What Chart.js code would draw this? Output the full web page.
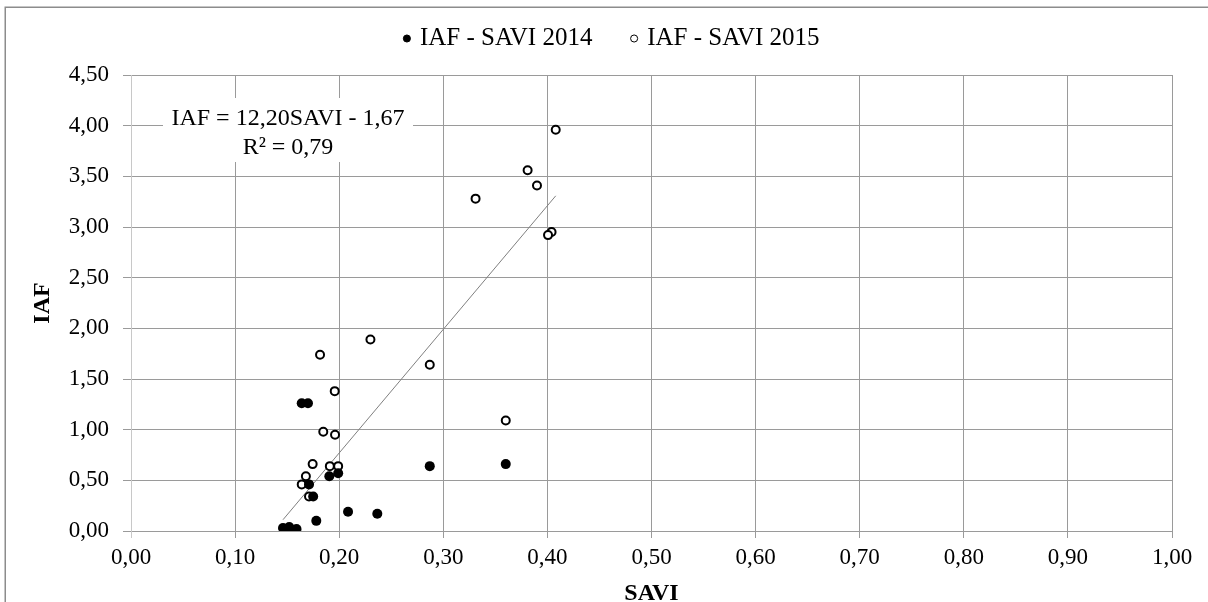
<!DOCTYPE html>
<html>
<head>
<meta charset="utf-8">
<script src="https://cdn.jsdelivr.net/npm/chart.js@4"></script>
<style>
  html, body { margin: 0; padding: 0; background: #ffffff; }
  #wrap { width: 1208px; height: 602px; }
</style>
</head>
<body>
<div id="wrap"><canvas id="chart" width="1208" height="602"></canvas></div>
<script>
// SAVI (x) and IAF (y) samples for each campaign
const savi2014 = [0.164, 0.170, 0.1905, 0.199, 0.171, 0.175, 0.178, 0.2085, 0.2366, 0.146, 0.152, 0.159, 0.287, 0.360];
const iaf2014  = [1.26,  1.26,  0.54,   0.57,  0.46,  0.34,  0.10,  0.19,   0.17,   0.03,  0.04,  0.02,  0.64,  0.66];

const savi2015 = [0.408, 0.381, 0.390, 0.331, 0.404, 0.4006, 0.230, 0.1816, 0.287, 0.1957, 0.360, 0.1847, 0.196, 0.1745, 0.191, 0.199, 0.168, 0.164, 0.171];
const iaf2015  = [3.96,  3.56,  3.41,  3.28,  2.95,  2.92,   1.89,  1.74,   1.64,  1.38,   1.09,  0.98,   0.95,  0.66,   0.64,  0.64,  0.54,  0.46,  0.34];

const seriesNames = ['IAF - SAVI 2014', 'IAF - SAVI 2015'];

// Linear fit reported on the chart
const trendSlope = 12.20;
const trendIntercept = -1.67;
const trendR2 = 0.79;

// Axis ranges
const xRange = [0, 1];
const xStep = 0.1;
const yRange = [0, 4.5];
const yStep = 0.5;

const axisTitleX = 'SAVI';
const axisTitleY = 'IAF';

const SERIF = '"Liberation Serif", "Times New Roman", serif';
const comma = (v, d) => v.toFixed(d).replace('.', ',');

const toPoints = (xs, ys) => xs.map((x, i) => ({ x: x, y: ys[i] }));
const allSavi = savi2014.concat(savi2015);
const trendX = [Math.min(...allSavi), Math.max(...allSavi)];
const trendPoints = trendX.map(x => ({ x: x, y: trendSlope * x + trendIntercept }));

const trendLabel = [
  'IAF = ' + comma(trendSlope, 2) + 'SAVI - ' + comma(Math.abs(trendIntercept), 2),
  'R² = ' + comma(trendR2, 2)
];

// Outer frame of the chart object
const framePlugin = {
  id: 'frame',
  beforeDraw(chart) {
    const ctx = chart.ctx;
    ctx.save();
    ctx.fillStyle = '#ffffff';
    ctx.fillRect(0, 0, chart.width, chart.height);
    ctx.strokeStyle = '#8c8c8c';
    ctx.lineWidth = 1.5;
    ctx.strokeRect(5.25, 7.25, chart.width + 10, chart.height + 10);
    ctx.restore();
  }
};

// Trendline equation in a white box
const equationPlugin = {
  id: 'equation',
  afterDatasetsDraw(chart) {
    const ctx = chart.ctx;
    const a = chart.chartArea;
    const bx = a.left + 32, by = a.top + 23, bw = 250, bh = 64;
    ctx.save();
    ctx.fillStyle = '#ffffff';
    ctx.fillRect(bx, by, bw, bh);
    ctx.fillStyle = '#000000';
    ctx.font = '24px ' + SERIF;
    ctx.textAlign = 'center';
    ctx.textBaseline = 'alphabetic';
    ctx.fillText(trendLabel[0], bx + bw / 2, by + 27);
    ctx.fillText(trendLabel[1], bx + bw / 2, by + 56);
    ctx.restore();
  }
};

const gridColor = '#9a9a9a';
const zeroAxisColor = '#c8c8c8';

new Chart(document.getElementById('chart'), {
  type: 'scatter',
  data: {
    datasets: [
      {
        label: seriesNames[0] + '     ',
        data: toPoints(savi2014, iaf2014),
        pointStyle: 'circle',
        pointRadius: 5,
        pointBorderWidth: 0,
        backgroundColor: '#000000',
        borderColor: '#000000'
      },
      {
        label: seriesNames[1],
        data: toPoints(savi2015, iaf2015),
        pointStyle: 'circle',
        pointRadius: 4,
        pointBorderWidth: 2,
        backgroundColor: '#ffffff',
        borderColor: '#000000'
      },
      {
        type: 'line',
        label: 'trend',
        data: trendPoints,
        borderColor: '#808080',
        borderWidth: 1,
        pointRadius: 0,
        fill: false,
        tension: 0
      }
    ]
  },
  options: {
    responsive: false,
    animation: false,
    events: [],
    layout: { padding: { left: 18, right: 0, top: 16, bottom: 0 } },
    plugins: {
      tooltip: { enabled: false },
      legend: {
        display: true,
        position: 'top',
        labels: {
          color: '#000000',
          font: { family: SERIF, size: 25 },
          usePointStyle: true,
          boxWidth: 1,
          boxHeight: 5,
          padding: 10,
          generateLabels(chart) {
            const items = Chart.defaults.plugins.legend.labels.generateLabels(chart);
            return items
              .filter(it => it.datasetIndex < 2)
              .map(it => Object.assign(it, { lineWidth: 1 }));
          }
        }
      },
      // empty band between the legend and the plot area
      subtitle: {
        display: true,
        text: '',
        weight: 500,
        position: 'top',
        font: { size: 10, lineHeight: 1 },
        padding: { top: 0, bottom: 4 }
      }
    },
    scales: {
      x: {
        type: 'linear',
        min: xRange[0],
        max: xRange[1],
        afterFit(s) { s.height = 71; s.paddingRight = 36; },
        ticks: {
          stepSize: xStep,
          padding: 6,
          color: '#000000',
          font: { family: SERIF, size: 23 },
          callback: v => comma(v, 2)
        },
        grid: {
          color: c => (c.tick && c.tick.value === 0 ? zeroAxisColor : gridColor),
          lineWidth: 1,
          tickLength: 7,
          drawTicks: true
        },
        border: { display: true, color: gridColor, width: 1 },
        title: {
          display: true,
          text: axisTitleX,
          color: '#000000',
          font: { family: SERIF, size: 24, weight: 'bold' },
          padding: { top: 0, bottom: -6 }
        }
      },
      y: {
        type: 'linear',
        min: yRange[0],
        max: yRange[1],
        afterFit(s) { s.width = 113; },
        ticks: {
          stepSize: yStep,
          padding: 14,
          color: '#000000',
          font: { family: SERIF, size: 23 },
          callback: v => comma(v, 2)
        },
        grid: {
          color: gridColor,
          lineWidth: 1,
          tickLength: 8,
          drawTicks: true
        },
        border: { display: true, color: zeroAxisColor, width: 1 },
        title: {
          display: true,
          text: axisTitleY,
          color: '#000000',
          font: { family: SERIF, size: 24, weight: 'bold' },
          padding: { top: 10, bottom: 0 }
        }
      }
    }
  },
  plugins: [framePlugin, equationPlugin]
});
</script>
</body>
</html>
